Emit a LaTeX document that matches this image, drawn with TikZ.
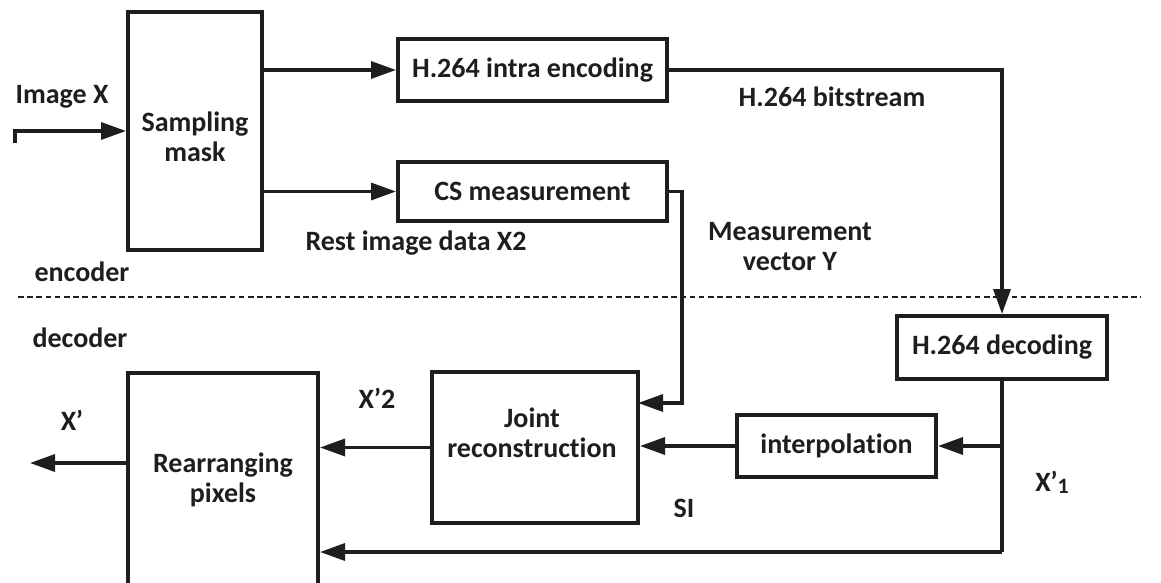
\documentclass[tikz,border=0pt]{standalone}
\usepackage{fontspec}
\setmainfont[RawFeature=-liga]{Carlito}
\usetikzlibrary{arrows.meta}
\definecolor{inkline}{HTML}{1E1E1E}
\tikzset{
  every node/.style={font=\bfseries\fontsize{14}{15}\selectfont, text=inkline},
  blockbox/.style={draw=inkline, line width=2pt, inner sep=0pt},
  lbl/.style={inner sep=0pt, align=center},
  flow/.style={draw=inkline, line width=1.7pt,
               -{Triangle[length=12.5pt, width=8.5pt]}},
  wire/.style={draw=inkline, line width=1.7pt},
  sepline/.style={draw=inkline, line width=1.2pt, dash pattern=on 2.8pt off 1.8pt},
}

\begin{document}
\begin{tikzpicture}[x=0.5pt, y=-0.5pt]
    \useasboundingbox (0,0) rectangle (1161,583);
    % encoder side
    \node[blockbox, minimum width=67pt, minimum height=119pt] (samp) at (195,131) {};
    \node[lbl] (samplbl) at (195,137) {Sampling\\mask};
    \node[blockbox, minimum width=134.5pt, minimum height=31pt] (intra) at (532.5,70) {H.264 intra encoding};
    \node[blockbox, minimum width=134.5pt, minimum height=29.5pt] (cs) at (532.5,191.5) {CS measurement};
    \node[lbl] (imgx) at (62,97) {Image X};
    \node[lbl] (bits) at (832,97) {H.264 bitstream};
    \node[lbl] (rest) at (416,243) {Rest image data X2};
    \node[lbl] (meas) at (790,246.5) {Measurement\\vector Y};
    \node[lbl] (enc) at (82,272) {encoder};
    \node[lbl] (dec) at (80,338) {decoder};
    \coordinate (sepL) at (18,297);
    \coordinate (sepR) at (1141,297);
    \draw[sepline] (sepL) -- (sepR);
    % decoder side
    \node[blockbox, minimum width=105pt, minimum height=31.5pt] (h264dec) at (1002,347.5) {H.264 decoding};
    \node[blockbox, minimum width=99.5pt, minimum height=31pt] (interp) at (836.5,446) {interpolation};
    \node[blockbox, minimum width=103pt, minimum height=75.5pt] (joint) at (535,447.5) {};
    \node[lbl] (jointlbl) at (532,433) {Joint\\reconstruction};
    \node[blockbox, minimum width=95pt, minimum height=106.5pt] (rearr) at (223,479.5) {};
    \node[lbl] (rearrlbl) at (223,480) {Rearranging\\pixels};
    \node[lbl] (xp) at (72,420) {X’};
    \node[lbl] (xp2) at (377,398) {X’2};
    \node[lbl] (si) at (684,508) {SI};
    \node[lbl] (xp1) at (1052,482) {X’\raisebox{-0.15ex}{\fontsize{11}{11}\selectfont 1}};
    % connectors
    \coordinate (inp) at (15,143);
    \coordinate (outp) at (30,463);
    \coordinate (cscorner) at (682,191.5);
    \coordinate (jointin) at (638,403);
    \coordinate (xone) at (1002,446);
    \coordinate (bot) at (1002,552);
    \draw[flow] (inp) |- (samp.west);
    \draw[flow] (samp.east |- intra.west) -- (intra.west);
    \draw[flow] (samp.east |- cs.west) -- (cs.west);
    \draw[flow] (intra.east) -| (h264dec.north);
    \draw[flow] (cs.east) -- (cscorner) |- (jointin);
    \draw[wire] (h264dec.south) -- (bot);
    \draw[flow] (bot) -- (bot -| rearr.east);
    \draw[flow] (xone) -- (interp.east);
    \draw[flow] (interp.west) -- (interp.west -| joint.east);
    \draw[flow] (joint.west) -- (joint.west -| rearr.east);
    \draw[flow] (rearr.west |- outp) -- (outp);
  \end{tikzpicture}
\end{document}
